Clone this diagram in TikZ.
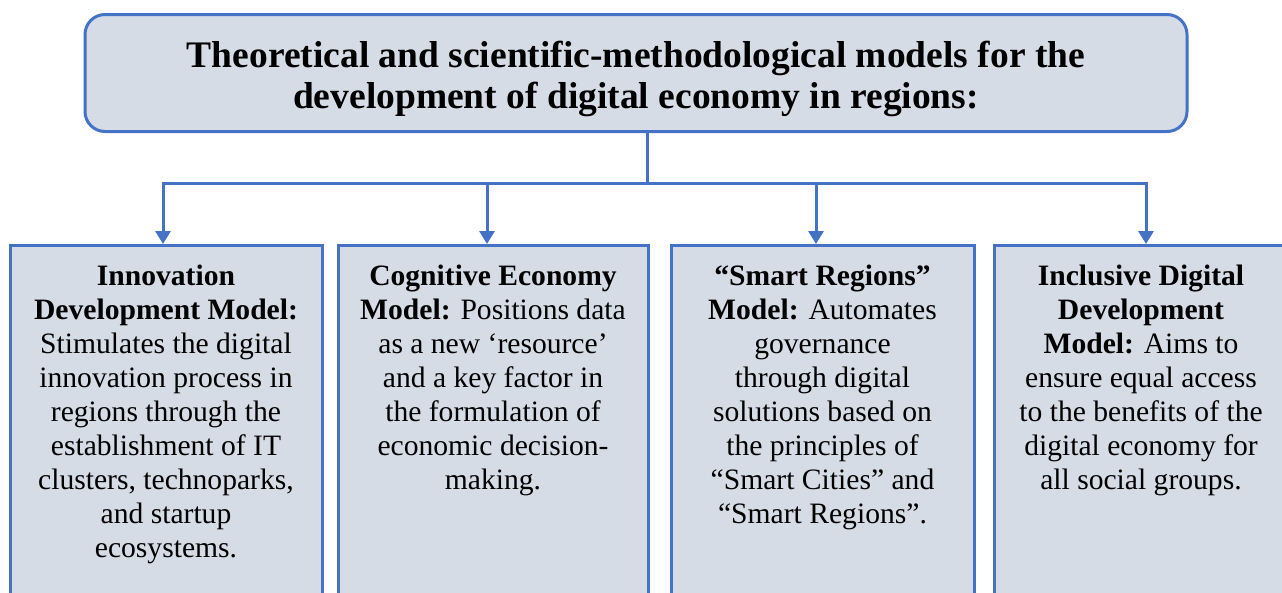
\documentclass[tikz,border=0pt]{standalone}
\usepackage{fontspec}
\setmainfont{Liberation Serif}
\usetikzlibrary{positioning,arrows.meta}

\definecolor{modelblue}{HTML}{4472C4}
\definecolor{modelfill}{HTML}{D6DCE5}

\tikzset{
    titlebox/.style={draw=modelblue, fill=modelfill, line width=3pt, rounded corners=20pt,
        minimum width=1102pt, minimum height=117pt, anchor=north},
    titletext/.style={align=center, inner sep=0pt, text depth=0pt,
        font=\fontsize{37.5}{41}\selectfont\bfseries},
    modelbox/.style={draw=modelblue, fill=modelfill, line width=3pt, anchor=north,
        minimum height=420pt},
    modeltext/.style={align=center, inner sep=0pt, font=\fontsize{29.6}{34}\selectfont},
    wire/.style={draw=modelblue, line width=3pt},
    link/.style={wire, -{Triangle[width=15pt,length=13pt]}},
}

\begin{document}
\begin{tikzpicture}[x=1pt,y=-1pt]
    \useasboundingbox (0,0) rectangle (1282,592);
    \clip (0,0) rectangle (1282,592);

    % top box
    \node[titlebox] (title) at (636,13) {};
    \node[titletext] (titlelbl) at ([yshift=-1.5pt]title.center)
        {Theoretical and scientific-methodological models for the\\
         development of digital economy in regions:};

    % the four models
    \node[modelbox, minimum width=312pt] (box1) at (166,244) {};
    \node[modelbox, minimum width=310pt] (box2) at (493,244) {};
    \node[modelbox, minimum width=303pt] (box3) at (822.5,244) {};
    \node[modelbox, minimum width=300pt] (box4) at (1144,244) {};

    \node[modeltext, below=21pt of box1.north] (text1)
        {\textbf{Innovation}\\
         \textbf{Development Model:}\\
         Stimulates the digital\\
         innovation process in\\
         regions through the\\
         establishment of IT\\
         clusters, technoparks,\\
         and startup\\
         ecosystems.};
    \node[modeltext, below=21pt of box2.north] (text2)
        {\textbf{Cognitive Economy}\\
         \textbf{Model:} Positions data\\
         as a new ‘resource’\\
         and a key factor in\\
         the formulation of\\
         economic decision-\\
         making.};
    \node[modeltext, below=21pt of box3.north] (text3)
        {\textbf{“Smart Regions”}\\
         \textbf{Model:} Automates\\
         governance\\
         through digital\\
         solutions based on\\
         the principles of\\
         “Smart Cities” and\\
         “Smart Regions”.};
    \node[modeltext, below=21pt of box4.north, xshift=-3pt] (text4)
        {\textbf{Inclusive Digital}\\
         \textbf{Development}\\
         \textbf{Model:} Aims to\\
         ensure equal access\\
         to the benefits of the\\
         digital economy for\\
         all social groups.};

    % connectors
    \coordinate (drop) at ([xshift=11pt]title.south);
    \coordinate (bus) at ([yshift=-50pt]drop);
    \draw[wire] (drop) -- (bus);
    \draw[link] (bus) -| ([xshift=-3pt]box1.north);
    \draw[link] (bus) -| ([xshift=-6pt]box2.north);
    \draw[link] (bus) -| ([xshift=-6.5pt]box3.north);
    \draw[link] (bus) -| ([xshift=2pt]box4.north);
\end{tikzpicture}
\end{document}
